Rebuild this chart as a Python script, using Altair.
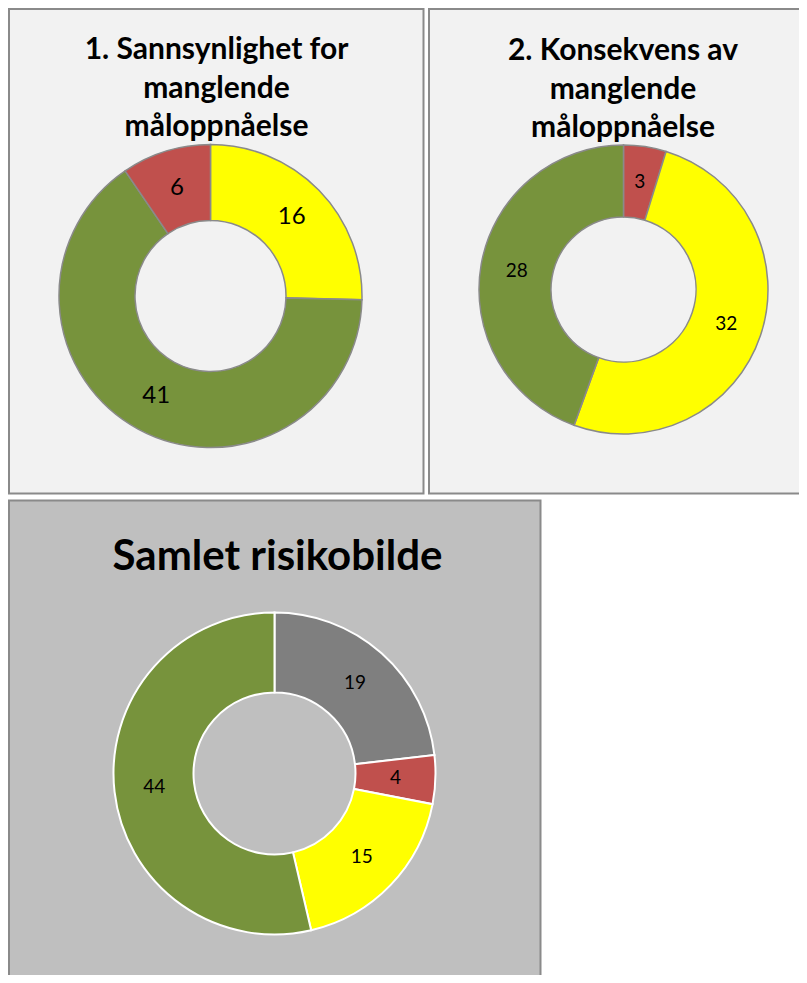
import altair as alt
import pandas as pd

# ---- data -------------------------------------------------------------
title1 = ["1. Sannsynlighet for", "manglende", "måloppnåelse"]
title2 = ["2. Konsekvens av", "manglende", "måloppnåelse"]
title3 = ["Samlet risikobilde"]

cats1 = ["Gul", "Grønn", "Rød"]
vals1 = [16, 41, 6]

cats2 = ["Rød", "Gul", "Grønn"]
vals2 = [3, 32, 28]

cats3 = ["Grå", "Rød", "Gul", "Grønn"]
vals3 = [19, 4, 15, 44]

palette_names = ["Grønn", "Gul", "Rød", "Grå"]
palette_colors = ["#77933C", "#FFFF00", "#C0504D", "#7F7F7F"]

FONT = "Lato"
BORDER = "#8A8A8A"

color_scale = alt.Scale(domain=palette_names, range=palette_colors)


def frame(cats, vals):
    return pd.DataFrame({"kategori": cats, "antall": vals,
                         "rekkefolge": list(range(len(cats)))})


def background(x, y, x2, y2, fill):
    return alt.Chart(pd.DataFrame({"panel": [1]})).mark_rect(
        fill=fill, stroke=BORDER, strokeWidth=2
    ).encode(x=alt.value(x), x2=alt.value(x2), y=alt.value(y), y2=alt.value(y2))


def donut(cats, vals, cx, cy, r_out, r_in, stroke, stroke_w, label_size):
    base = alt.Chart(frame(cats, vals)).encode(
        theta=alt.Theta("antall:Q", stack=True),
        order=alt.Order("rekkefolge:Q"),
        detail="kategori:N",
    )
    arcs = base.mark_arc(radius=r_out, radius2=r_in, stroke=stroke,
                         strokeWidth=stroke_w).encode(
        color=alt.Color("kategori:N", scale=color_scale, legend=None),
        x=alt.value(cx), y=alt.value(cy),
    )
    labels = base.mark_text(radius=(r_out + r_in) / 2, font=FONT,
                            fontSize=label_size, color="black").encode(
        text="antall:Q", x=alt.value(cx), y=alt.value(cy),
    )
    return alt.layer(arcs, labels)


def heading(title, tx, ty, size, line_h):
    return alt.Chart(pd.DataFrame({"tittel": ["\n".join(title)]})).mark_text(
        font=FONT, fontWeight="bold", fontSize=size, lineHeight=line_h,
        lineBreak="\n", align="center", baseline="alphabetic", color="black",
    ).encode(text="tittel:N", x=alt.value(tx), y=alt.value(ty))


chart = alt.layer(
    background(1, 1, 415.5, 485.5, "#F2F2F2"),
    background(421, 1, 840, 485.5, "#F2F2F2"),
    background(1, 492.5, 532.5, 1010, "#BFBFBF"),
    donut(cats1, vals1, 202.5, 288, 151.5, 75.5, BORDER, 1.5, 24),
    donut(cats2, vals2, 615.5, 281.5, 144.5, 72.5, BORDER, 1.5, 19),
    donut(cats3, vals3, 266.5, 765.5, 161, 81, "white", 2, 19),
    heading(title1, 208.5, 51.3, 30, 38.5),
    heading(title2, 615, 52, 30, 38.5),
    heading(title3, 269.5, 562, 42, 50),
).resolve_scale(theta="independent").properties(
    width=791, height=967,
    autosize=alt.AutoSizeParams(type="none"),
    padding=0, background="white",
).configure_view(stroke=None)

chart.save("out.html", embed_options={"renderer": "svg", "actions": False})
